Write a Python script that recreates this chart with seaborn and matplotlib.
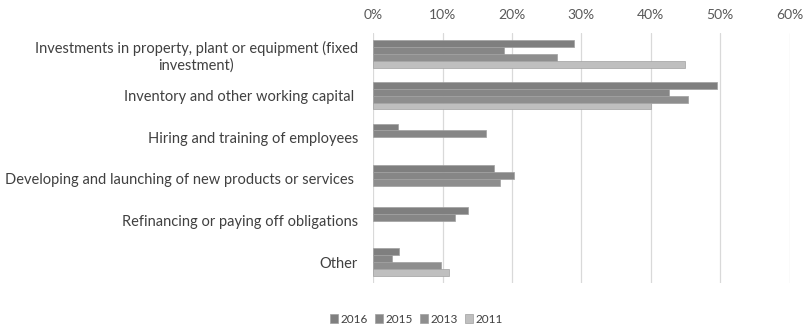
import matplotlib
matplotlib.use("Agg")
import matplotlib.pyplot as plt
from matplotlib.ticker import PercentFormatter
import seaborn as sns
import pandas as pd
import numpy as np

categories = [
    "Investments in property, plant or equipment (fixed\ninvestment)",
    "Inventory and other working capital ",
    "Hiring and training of employees",
    "Developing and launching of new products or services ",
    "Refinancing or paying off obligations",
    "Other",
]
years = ["2016", "2015", "2013", "2011"]
v2016 = [28.9, 49.5, 3.6, 17.4, 13.6, 3.7]
v2015 = [18.9, 42.6, 16.2, 20.3, 11.8, 2.7]
v2013 = [26.5, 45.4, np.nan, 18.2, np.nan, 9.7]
v2011 = [44.9, 40.1, np.nan, np.nan, np.nan, 10.9]
colors = ["#7f7f7f", "#868686", "#8e8e8e", "#bfbfbf"]

rows = []
for yr, vals in zip(years, [v2016, v2015, v2013, v2011]):
    for cat, v in zip(categories, vals):
        rows.append({"category": cat, "year": yr, "value": v})
df = pd.DataFrame(rows)

sns.set_style("white")
plt.rcParams["font.family"] = ["Lato", "DejaVu Sans"]

fig = plt.figure(figsize=(8.04, 3.32), dpi=100)
ax = fig.add_axes([0.4643, 0.1476, 0.982 - 0.4643, 0.90 - 0.1476])

sns.barplot(data=df, x="value", y="category", hue="year", orient="h",
            palette=colors, width=0.66, gap=0, saturation=1, ax=ax,
            order=categories, hue_order=years, errorbar=None,
            linewidth=0.5, edgecolor="#a0a0a0")

ax.set_xlim(0, 60)
ax.set_ylim(5.5, -0.5)
ax.set_xticks(range(0, 61, 10))
ax.xaxis.set_major_formatter(PercentFormatter(decimals=0))
ax.xaxis.tick_top()
ax.set_xlabel("")
ax.set_ylabel("")
ax.grid(axis="x", color="#d9d9d9", linewidth=0.9)
ax.set_axisbelow(True)
for s in ax.spines.values():
    s.set_visible(False)
ax.tick_params(axis="x", length=0, pad=9, labelsize=10, labelcolor="#595959")
ax.tick_params(axis="y", length=0, pad=11, labelsize=10.5, labelcolor="#404040")
for t in ax.get_yticklabels():
    t.set_multialignment("center")

handles, labels = ax.get_legend_handles_labels()
ax.get_legend().remove()
fig.legend(handles, labels, loc="lower center", bbox_to_anchor=(0.518, -0.01),
           ncol=4, frameon=False, fontsize=8.5, handlelength=0.7, handleheight=0.7,
           handletextpad=0.2, columnspacing=0.6, labelcolor="#404040")

fig.savefig("out.png", dpi=100)
